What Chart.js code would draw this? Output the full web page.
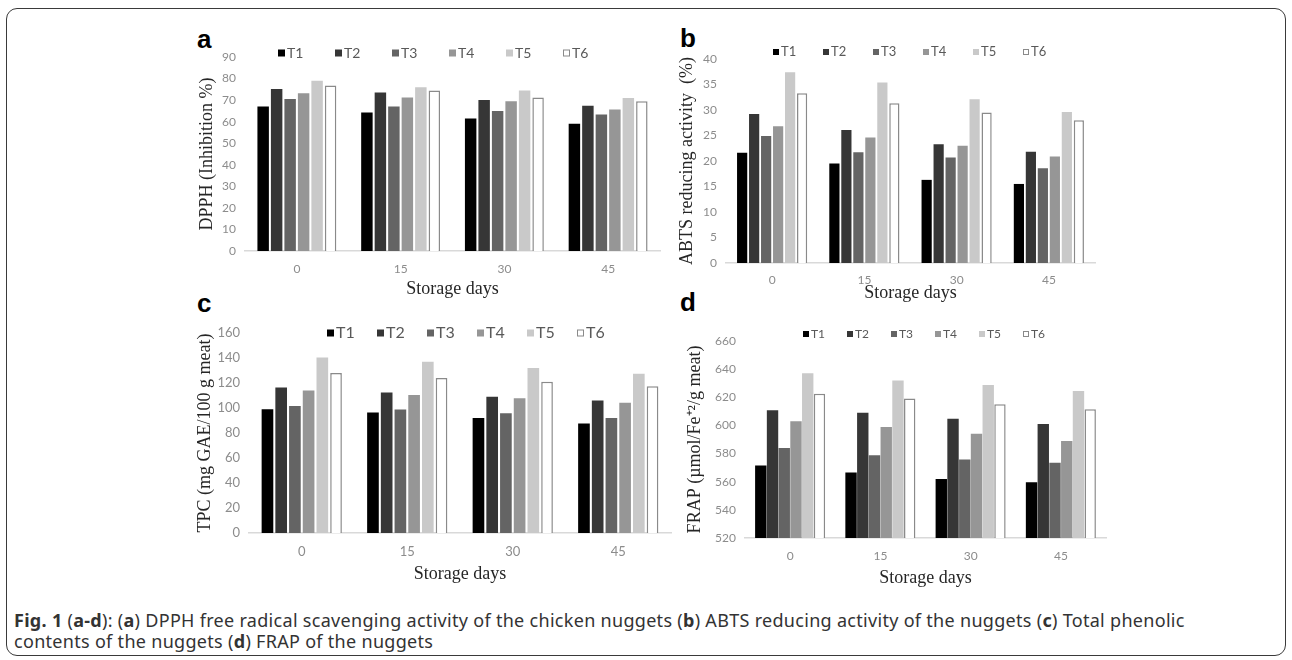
<!DOCTYPE html>
<html>
<head>
<meta charset="utf-8">
<script src="https://cdn.jsdelivr.net/npm/chart.js@4.4.0/dist/chart.umd.min.js"></script>
<style>
  body { margin: 0; background: #fff; width: 1292px; height: 660px; overflow: hidden; position: relative; }
  .frame { position: absolute; left: 6px; top: 8px; width: 1278px; height: 646px; border: 1.5px solid #3a3a3a; border-radius: 11px; }
  canvas { position: absolute; }
  .letter { position: absolute; font: bold 26px "Liberation Sans", Arial, sans-serif; color: #000; line-height: 1; }
  .caption { position: absolute; left: 14px; top: 610px; font: 18px "Noto Sans", sans-serif; color: #333; line-height: 21px; letter-spacing: 0.3px; }
</style>
</head>
<body>
<div class="frame"></div>
<div class="letter" style="left:197px;top:26px">a</div>
<div class="letter" style="left:680px;top:25px">b</div>
<div class="letter" style="left:197px;top:290px">c</div>
<div class="letter" style="left:680px;top:289px">d</div>

<canvas id="chartA" width="480" height="270" style="left:190px;top:30px"></canvas>
<canvas id="chartB" width="440" height="274" style="left:670px;top:30px"></canvas>
<canvas id="chartC" width="490" height="295" style="left:190px;top:290px"></canvas>
<canvas id="chartD" width="450" height="299" style="left:670px;top:290px"></canvas>

<div class="caption"><b>Fig. 1</b> (<b>a-d</b>): (<b>a</b>) DPPH free radical scavenging activity of the chicken nuggets (<b>b</b>) ABTS reducing activity of the nuggets (<b>c</b>) Total phenolic<br>contents of the nuggets (<b>d</b>) FRAP of the nuggets</div>

<script>
//data
const days = ['0', '15', '30', '45']
const treatments = ['T1', 'T2', 'T3', 'T4', 'T5', 'T6']
const barColors = ['#000000', '#363636', '#646464', '#969696', '#c9c9c9', '#ffffff']

// rows = T1..T6, columns = storage days
const dpph = [
    [67.0, 64.2, 61.5, 59.0],
    [75.2, 73.5, 70.0, 67.4],
    [70.5, 67.0, 65.0, 63.3],
    [73.2, 71.2, 69.5, 65.6],
    [79.0, 76.0, 74.5, 71.0],
    [76.8, 74.5, 71.2, 69.5]
]
const abts = [
    [21.6, 19.5, 16.3, 15.5],
    [29.2, 26.1, 23.3, 21.8],
    [24.9, 21.7, 20.7, 18.6],
    [26.8, 24.6, 23.0, 20.9],
    [37.4, 35.4, 32.1, 29.6],
    [33.3, 31.3, 29.5, 28.0]
]
const tpc = [
    [99.0, 96.5, 92.0, 87.7],
    [116.5, 112.5, 109.0, 106.0],
    [101.7, 98.8, 95.8, 92.0],
    [114.0, 110.5, 107.8, 104.3],
    [140.5, 137.0, 132.0, 127.5],
    [128.0, 124.0, 121.0, 117.5]
]
const frap = [
    [571.5, 566.5, 562.0, 559.7],
    [610.8, 609.0, 604.8, 601.0],
    [584.0, 578.8, 575.8, 573.5],
    [603.0, 598.8, 594.0, 589.0],
    [637.0, 632.0, 628.8, 624.5],
    [622.5, 619.2, 615.0, 611.5]
]

Chart.defaults.font.family = 'Lato'
Chart.defaults.color = '#8c8c8c'

// legend drawn by hand so it can sit over the top of the plot like the original
const boxLegend = {
    id: 'boxLegend',
    afterDraw(chart, args, o) {
        const ctx = chart.ctx
        ctx.save()
        ctx.font = o.size + 'px Lato'
        ctx.textBaseline = 'middle'
        chart.data.datasets.forEach((ds, i) => {
            const x = o.x + i * o.step
            ctx.fillStyle = ds.backgroundColor
            ctx.fillRect(x, o.y - o.box / 2, o.box, o.box)
            if (ds.borderWidth) {
                ctx.strokeStyle = ds.borderColor
                ctx.lineWidth = 1
                ctx.strokeRect(x + 0.5, o.y - o.box / 2 + 0.5, o.box - 1, o.box - 1)
            }
            ctx.fillStyle = '#595959'
            ctx.fillText(ds.label, x + o.box + 2, o.y)
        })
        ctx.restore()
    }
}
Chart.register(boxLegend)

function makePanel(id, values, p) {
    const datasets = treatments.map((t, i) => ({
        label: t,
        data: values[i],
        backgroundColor: barColors[i],
        borderColor: i === 5 ? '#8a8a8a' : barColors[i],
        borderWidth: i === 5 ? 1.5 : 0,
        barPercentage: p.barPct,
        categoryPercentage: 0.78
    }))
    return new Chart(document.getElementById(id), {
        type: 'bar',
        data: { labels: days, datasets: datasets },
        options: {
            responsive: false,
            animation: false,
            devicePixelRatio: 1,
            layout: { padding: { top: p.padTop, right: p.padRight, left: 0, bottom: 0 } },
            plugins: {
                legend: { display: false },
                tooltip: { enabled: false },
                boxLegend: p.legend
            },
            scales: {
                x: {
                    grid: { display: false, drawTicks: false },
                    border: { display: true, color: '#d9d9d9', width: 1.5 },
                    ticks: { font: { size: p.tick }, padding: p.xPad, color: '#8c8c8c' },
                    title: {
                        display: true,
                        text: 'Storage days',
                        font: { family: 'Liberation Serif', size: 18 },
                        color: '#262626',
                        padding: { top: 0, bottom: 0 }
                    },
                    afterFit(scale) { scale.height = p.xH }
                },
                y: {
                    min: p.min,
                    max: p.max,
                    grid: { display: false, drawTicks: false },
                    border: { display: false },
                    ticks: { stepSize: p.step, font: { size: p.tick }, padding: 9, color: '#8c8c8c' },
                    title: {
                        display: true,
                        text: p.yTitle,
                        font: { family: 'Liberation Serif', size: p.yFont },
                        color: '#262626',
                        padding: { top: p.yTitlePad, bottom: 0 }
                    },
                    afterFit(scale) { scale.width = p.yW }
                }
            }
        }
    })
}

const chartA = makePanel('chartA', dpph, {
    min: 0, max: 90, step: 10, yTitle: 'DPPH (Inhibition %)', yFont: 18, yTitlePad: 6,
    padTop: 27, padRight: 10, yW: 55, xH: 49, tick: 12, xPad: 11, barPct: 0.85,
    legend: { x: 88, y: 23, step: 57, box: 7, size: 14 }
})
const chartB = makePanel('chartB', abts, {
    min: 0, max: 40, step: 5, yTitle: 'ABTS reducing activity  (%)', yFont: 18, yTitlePad: 6,
    padTop: 29, padRight: 15, yW: 56, xH: 41, tick: 12, xPad: 10, barPct: 0.85,
    legend: { x: 103, y: 22, step: 50, box: 6, size: 13 }
})
const chartC = makePanel('chartC', tpc, {
    min: 0, max: 160, step: 20, yTitle: 'TPC (mg GAE/100 g meat)', yFont: 18, yTitlePad: 4,
    padTop: 43, padRight: 9, yW: 59, xH: 52, tick: 13, xPad: 11, barPct: 0.85,
    legend: { x: 137, y: 43, step: 50, box: 7, size: 16 }
})
const chartD = makePanel('chartD', frap, {
    min: 520, max: 660, step: 20, yTitle: 'FRAP (µmol/Fe⁺²/g meat)', yFont: 18, yTitlePad: 14,
    padTop: 51, padRight: 14, yW: 75, xH: 51, tick: 12, xPad: 11, barPct: 0.97,
    legend: { x: 133, y: 44, step: 44, box: 6, size: 12 }
})
</script>
</body>
</html>
